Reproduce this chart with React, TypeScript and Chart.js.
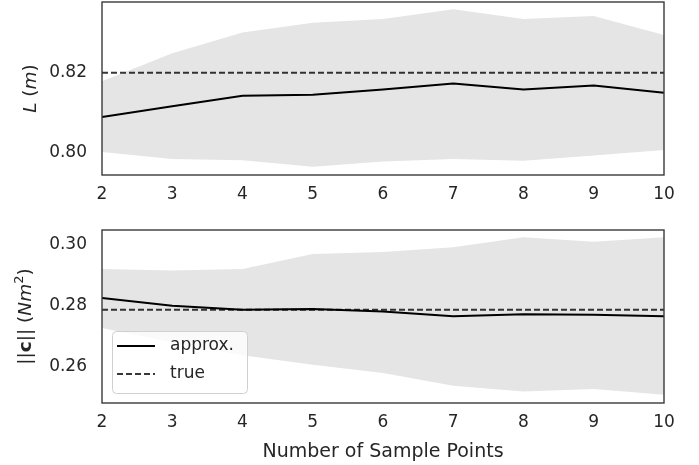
import React, { useEffect, useRef } from "react";
import { Chart, registerables } from "chart.js";

Chart.register(...registerables);

// ---- data ----
const SAMPLE_POINTS = [2, 3, 4, 5, 6, 7, 8, 9, 10];

const L_APPROX = [0.8089, 0.8116, 0.8142, 0.8145, 0.8158, 0.8173, 0.8158, 0.8168, 0.815];
const L_UPPER = [0.8179, 0.8249, 0.8301, 0.8326, 0.8335, 0.836, 0.8335, 0.8343, 0.8295];
const L_LOWER = [0.8001, 0.7983, 0.798, 0.7964, 0.7977, 0.7983, 0.7979, 0.7992, 0.8006];
const L_TRUE = 0.82;
const L_TICKS = [0.8, 0.82];

const C_APPROX = [0.2825, 0.28, 0.2787, 0.2789, 0.2781, 0.2765, 0.2772, 0.277, 0.2765];
const C_UPPER = [0.2921, 0.2916, 0.2921, 0.297, 0.2977, 0.2992, 0.3025, 0.301, 0.3025];
const C_LOWER = [0.2727, 0.268, 0.2637, 0.2606, 0.2579, 0.2537, 0.2518, 0.2526, 0.2507];
const C_TRUE = 0.2787;
const C_TICKS = [0.26, 0.28, 0.3];

const X_TITLE = "Number of Sample Points";
const LEGEND_APPROX = "approx.";
const LEGEND_TRUE = "true";

const FONT = "'DejaVu Sans', 'Noto Sans', sans-serif";
const TEXT = "#262626";
const BAND = "rgb(229,229,229)";

type Seg = { text: string; style?: string; sup?: boolean };

function drawRich(ctx: CanvasRenderingContext2D, segs: Seg[], x: number, yc: number, size: number) {
  ctx.save();
  ctx.translate(x, yc);
  ctx.rotate(-Math.PI / 2);
  ctx.fillStyle = TEXT;
  ctx.textBaseline = "alphabetic";
  ctx.textAlign = "left";
  const fontOf = (s: Seg) => `${s.style || ""} ${s.sup ? Math.round(size * 0.7) : size}px ${FONT}`;
  let total = 0;
  for (const s of segs) {
    ctx.font = fontOf(s);
    total += ctx.measureText(s.text).width;
  }
  let cx = -total / 2;
  for (const s of segs) {
    ctx.font = fontOf(s);
    ctx.fillText(s.text, cx, s.sup ? -size * 0.42 : 0);
    cx += ctx.measureText(s.text).width;
  }
  ctx.restore();
}

const framePlugin = {
  id: "frame",
  afterDraw(chart: any) {
    const { ctx, chartArea: a } = chart;
    ctx.save();
    ctx.strokeStyle = "#3a3a3a";
    ctx.lineWidth = 1.4;
    ctx.strokeRect(a.left, a.top, a.right - a.left, a.bottom - a.top);
    ctx.restore();
  },
};

function yTitlePlugin(segs: Seg[], x: number, size: number) {
  return {
    id: "ytitle",
    afterDraw(chart: any) {
      const a = chart.chartArea;
      drawRich(chart.ctx, segs, x, (a.top + a.bottom) / 2, size);
    },
  };
}

const legendPlugin = {
  id: "customLegend",
  afterDraw(chart: any) {
    const { ctx, chartArea: a } = chart;
    const w = 135, h = 62;
    const left = a.left + 10;
    const top = a.bottom - 10 - h;
    ctx.save();
    ctx.beginPath();
    (ctx as any).roundRect(left + 0.5, top + 0.5, w, h, 4);
    ctx.fillStyle = "rgba(255,255,255,0.8)";
    ctx.fill();
    ctx.strokeStyle = "#d0d0d0";
    ctx.lineWidth = 1;
    ctx.stroke();
    const rows = [
      { label: LEGEND_APPROX, dash: [] as number[], color: "#000", y: top + 15 },
      { label: LEGEND_TRUE, dash: [6, 3], color: "rgba(0,0,0,0.78)", y: top + 43 },
    ];
    for (const r of rows) {
      ctx.beginPath();
      ctx.setLineDash(r.dash);
      ctx.strokeStyle = r.color;
      ctx.lineWidth = 2;
      ctx.moveTo(left + 5, r.y);
      ctx.lineTo(left + 43, r.y);
      ctx.stroke();
      ctx.setLineDash([]);
      ctx.fillStyle = TEXT;
      ctx.font = `17px ${FONT}`;
      ctx.textBaseline = "middle";
      ctx.textAlign = "left";
      ctx.fillText(r.label, left + 58, r.y);
    }
    ctx.restore();
  },
};

function makeConfig(opts: {
  approx: number[];
  upper: number[];
  lower: number[];
  truth: number;
  ticks: number[];
  min: number;
  max: number;
  xHeight: number;
  padTop: number;
  xTitle: boolean;
  plugins: any[];
}) {
  const pts = (arr: number[]) => SAMPLE_POINTS.map((x, i) => ({ x, y: arr[i] }));
  return {
    type: "line" as const,
    data: {
      datasets: [
        {
          label: LEGEND_APPROX,
          data: pts(opts.approx),
          borderColor: "#000",
          borderWidth: 2,
          pointRadius: 0,
          fill: false,
          tension: 0,
        },
        {
          label: LEGEND_TRUE,
          data: SAMPLE_POINTS.map((x) => ({ x, y: opts.truth })),
          borderColor: "rgba(0,0,0,0.78)",
          borderWidth: 2,
          borderDash: [6, 3],
          pointRadius: 0,
          fill: false,
        },
        {
          label: "lower",
          data: pts(opts.lower),
          borderColor: "rgba(0,0,0,0)",
          borderWidth: 0,
          pointRadius: 0,
          fill: false,
        },
        {
          label: "upper",
          data: pts(opts.upper),
          borderColor: "rgba(0,0,0,0)",
          borderWidth: 0,
          pointRadius: 0,
          backgroundColor: BAND,
          fill: "-1",
        },
      ],
    },
    options: {
      responsive: false,
      animation: false as const,
      layout: { padding: { top: opts.padTop, right: 35, left: 0, bottom: 0 } },
      plugins: { legend: { display: false }, tooltip: { enabled: false } },
      scales: {
        x: {
          type: "linear" as const,
          min: 2,
          max: 10,
          grid: { display: false, drawTicks: false },
          border: { display: false },
          afterBuildTicks: (s: any) => {
            s.ticks = SAMPLE_POINTS.map((v) => ({ value: v }));
          },
          afterFit: (s: any) => {
            s.height = opts.xHeight;
            s.paddingLeft = 0;
            s.paddingRight = 0;
            s.paddingTop = 0;
            s.paddingBottom = 0;
          },
          ticks: {
            color: TEXT,
            font: { family: FONT, size: 17 },
            padding: 9,
            maxRotation: 0,
            autoSkip: false,
            callback: (v: any) => String(v),
          },
          title: {
            display: opts.xTitle,
            text: X_TITLE,
            color: TEXT,
            font: { family: FONT, size: 19 },
            padding: { top: 0, bottom: 2 },
          },
        },
        y: {
          type: "linear" as const,
          min: opts.min,
          max: opts.max,
          grid: { display: false, drawTicks: false },
          border: { display: false },
          afterBuildTicks: (s: any) => {
            s.ticks = opts.ticks.map((v) => ({ value: v }));
          },
          afterFit: (s: any) => {
            s.width = 102;
            s.paddingTop = 0;
            s.paddingBottom = 0;
            s.paddingLeft = 0;
            s.paddingRight = 0;
          },
          ticks: {
            color: TEXT,
            font: { family: FONT, size: 17 },
            padding: 15,
            callback: (v: any) => Number(v).toFixed(2),
          },
        },
      },
    },
    plugins: [framePlugin, ...opts.plugins],
  };
}

function ChartCanvas({ config, width, height }: { config: any; width: number; height: number }) {
  const ref = useRef<HTMLCanvasElement | null>(null);
  useEffect(() => {
    if (!ref.current) return;
    const chart = new Chart(ref.current, config);
    return () => chart.destroy();
  }, [config]);
  return <canvas ref={ref} width={width} height={height} style={{ display: "block", width, height }} />;
}

const topConfig = makeConfig({
  approx: L_APPROX,
  upper: L_UPPER,
  lower: L_LOWER,
  truth: L_TRUE,
  ticks: L_TICKS,
  min: 0.7943,
  max: 0.8378,
  xHeight: 40,
  padTop: 2,
  xTitle: false,
  plugins: [
    yTitlePlugin(
      [
        { text: "L", style: "italic" },
        { text: " (" },
        { text: "m", style: "italic" },
        { text: ")" },
      ],
      35.5,
      18.5
    ),
  ],
});

const bottomConfig = makeConfig({
  approx: C_APPROX,
  upper: C_UPPER,
  lower: C_LOWER,
  truth: C_TRUE,
  ticks: C_TICKS,
  min: 0.248,
  max: 0.3049,
  xHeight: 62,
  padTop: 15,
  xTitle: true,
  plugins: [
    yTitlePlugin(
      [
        { text: "||" },
        { text: "c", style: "bold" },
        { text: "|| (" },
        { text: "Nm", style: "italic" },
        { text: "2", sup: true },
        { text: ")" },
      ],
      31,
      18.5
    ),
    legendPlugin,
  ],
});

export default function App() {
  return (
    <div style={{ position: "fixed", left: 0, top: 0, width: 699, height: 465, background: "#fff" }}>
      <ChartCanvas config={topConfig} width={699} height={215} />
      <ChartCanvas config={bottomConfig} width={699} height={250} />
    </div>
  );
}
